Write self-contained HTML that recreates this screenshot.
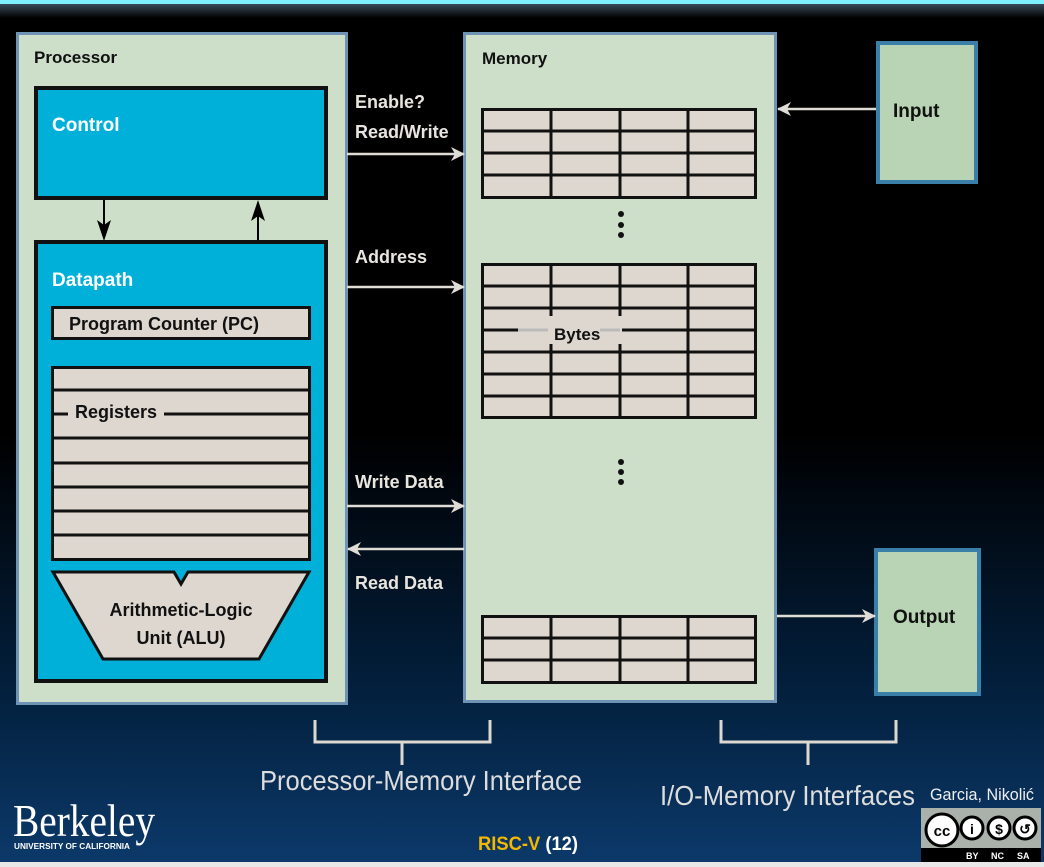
<!DOCTYPE html>
<html><head><meta charset="utf-8"><style>
html,body{margin:0;padding:0;width:1044px;height:867px;overflow:hidden;background:#000}
svg{display:block}
.b{font-family:"Liberation Sans",sans-serif;font-weight:bold}
</style></head><body>
<svg width="1044" height="867" viewBox="0 0 1044 867" xmlns="http://www.w3.org/2000/svg">
<defs>
<linearGradient id="bg" x1="0" y1="0" x2="0" y2="1">
<stop offset="0" stop-color="#000"/>
<stop offset="0.5" stop-color="#000"/>
<stop offset="0.8" stop-color="#03203e"/>
<stop offset="1" stop-color="#0c3a6b"/>
</linearGradient>
<linearGradient id="tb" x1="0" y1="0" x2="0" y2="1">
<stop offset="0" stop-color="#3a4a5a"/><stop offset="1" stop-color="#000"/>
</linearGradient>
<marker id="ah" markerWidth="14" markerHeight="14" refX="13" refY="7" orient="auto" markerUnits="userSpaceOnUse">
<path d="M0,0 L14,7 L0,14 L4,7 Z" fill="#e0dcd6"/></marker>
</defs>
<rect width="1044" height="867" fill="url(#bg)"/>
<rect y="4" width="1044" height="14" fill="url(#tb)"/>
<rect y="0" width="1044" height="4" fill="#7ff0ff"/>
<rect y="862" width="1044" height="5" fill="#e8e8e8"/>

<!-- Processor -->
<rect x="17.5" y="33.5" width="329" height="670" fill="#cddfc8" stroke="#6f93b5" stroke-width="3"/>
<text x="34" y="63" class="b" font-size="17" fill="#111">Processor</text>
<rect x="36" y="88" width="290" height="110" fill="#00b0d8" stroke="#111" stroke-width="4"/>
<text x="52" y="131" class="b" font-size="19" fill="#fff">Control</text>
<rect x="36" y="242" width="290" height="439" fill="#00b0d8" stroke="#111" stroke-width="4"/>
<text x="52" y="286" class="b" font-size="19" fill="#fff">Datapath</text>
<line x1="104" y1="200" x2="104" y2="232" stroke="#000" stroke-width="2"/>
<path d="M97,220 L104,241 L111,220 L104,225 Z" fill="#000"/>
<line x1="258" y1="240" x2="258" y2="208" stroke="#000" stroke-width="2"/>
<path d="M251,221 L258,200 L265,221 L258,216 Z" fill="#000"/>
<rect x="52.5" y="307.5" width="257" height="31" fill="#ded7d0" stroke="#111" stroke-width="3"/>
<text x="69" y="330" class="b" font-size="18" fill="#111">Program Counter (PC)</text>
<rect x="52.5" y="367.5" width="257" height="192" fill="#ded7d0" stroke="#111" stroke-width="3"/>
<g stroke="#111" stroke-width="3">
<line x1="52" y1="390" x2="310" y2="390"/>
<line x1="52" y1="414" x2="68" y2="414"/><line x1="164" y1="414" x2="310" y2="414"/>
<line x1="52" y1="438" x2="310" y2="438"/>
<line x1="52" y1="463" x2="310" y2="463"/>
<line x1="52" y1="487" x2="310" y2="487"/>
<line x1="52" y1="511" x2="310" y2="511"/>
<line x1="52" y1="535" x2="310" y2="535"/>
</g>
<text x="75" y="418" class="b" font-size="18" fill="#111">Registers</text>
<path d="M53,572 L174,572 L181,584 L188,572 L309,572 L259,659 L103,659 Z" fill="#ded7d0" stroke="#111" stroke-width="3"/>
<text x="181" y="616" class="b" font-size="18" fill="#111" text-anchor="middle">Arithmetic-Logic</text>
<text x="181" y="644" class="b" font-size="18" fill="#111" text-anchor="middle">Unit (ALU)</text>

<!-- Memory -->
<rect x="464.5" y="33.5" width="311" height="668" fill="#cddfc8" stroke="#6f93b5" stroke-width="3"/>
<text x="482" y="64" class="b" font-size="17" fill="#111">Memory</text>
<g fill="#ded7d0" stroke="#111" stroke-width="3">
<rect x="482.5" y="109.5" width="273" height="88"/>
<rect x="482.5" y="264.5" width="273" height="153"/>
<rect x="482.5" y="616.5" width="273" height="66"/>
</g>
<g stroke="#111" stroke-width="3">
<line x1="482" y1="131" x2="756" y2="131"/><line x1="482" y1="153" x2="756" y2="153"/><line x1="482" y1="175" x2="756" y2="175"/>
<line x1="551" y1="109" x2="551" y2="198"/><line x1="620" y1="109" x2="620" y2="198"/><line x1="688" y1="109" x2="688" y2="198"/>
<line x1="482" y1="286" x2="756" y2="286"/><line x1="482" y1="308" x2="756" y2="308"/>
<line x1="482" y1="330" x2="518" y2="330"/><line x1="622" y1="330" x2="756" y2="330"/>
<line x1="482" y1="352" x2="756" y2="352"/><line x1="482" y1="374" x2="756" y2="374"/><line x1="482" y1="396" x2="756" y2="396"/>
<line x1="551" y1="264" x2="551" y2="316"/><line x1="551" y1="344" x2="551" y2="418"/>
<line x1="620" y1="264" x2="620" y2="316"/><line x1="620" y1="344" x2="620" y2="418"/>
<line x1="688" y1="264" x2="688" y2="418"/>
<line x1="482" y1="638" x2="756" y2="638"/><line x1="482" y1="660" x2="756" y2="660"/>
<line x1="551" y1="616" x2="551" y2="683"/><line x1="620" y1="616" x2="620" y2="683"/><line x1="688" y1="616" x2="688" y2="683"/>
</g>
<line x1="518" y1="330" x2="548" y2="330" stroke="#bbb" stroke-width="3"/>
<line x1="600" y1="330" x2="620" y2="330" stroke="#bbb" stroke-width="3"/>
<text x="554" y="340" class="b" font-size="17" fill="#111">Bytes</text>
<g fill="#111"><circle cx="621" cy="214" r="3"/><circle cx="621" cy="225" r="3"/><circle cx="621" cy="235" r="3"/>
<circle cx="621" cy="462" r="3"/><circle cx="621" cy="472" r="3"/><circle cx="621" cy="482" r="3"/></g>

<!-- IO -->
<rect x="878" y="43" width="98" height="139" fill="#b8d4b4" stroke="#3a7fa8" stroke-width="4"/>
<text x="893" y="117" class="b" font-size="19" fill="#111">Input</text>
<rect x="876" y="550" width="103" height="144" fill="#b8d4b4" stroke="#3a7fa8" stroke-width="4"/>
<text x="893" y="623" class="b" font-size="19" fill="#111">Output</text>

<!-- arrows -->
<g stroke="#e0dcd6" stroke-width="2.5">
<line x1="347" y1="154" x2="464" y2="154" marker-end="url(#ah)"/>
<line x1="347" y1="287" x2="464" y2="287" marker-end="url(#ah)"/>
<line x1="347" y1="506" x2="464" y2="506" marker-end="url(#ah)"/>
<line x1="464" y1="549" x2="348" y2="549" marker-end="url(#ah)"/>
<line x1="876" y1="109" x2="778" y2="109" marker-end="url(#ah)"/>
<line x1="777" y1="616" x2="875" y2="616" marker-end="url(#ah)"/>
</g>
<g class="b" font-size="18" fill="#e8e4de">
<text x="355" y="108">Enable?</text>
<text x="355" y="138">Read/Write</text>
<text x="355" y="263">Address</text>
<text x="355" y="488">Write Data</text>
<text x="355" y="589">Read Data</text>
</g>

<!-- braces -->
<g fill="none" stroke="#ddd8d0" stroke-width="3">
<path d="M315,720 L315,742 L490,742 L490,720"/><line x1="402" y1="742" x2="402" y2="765"/>
<path d="M721,720 L721,742 L896,742 L896,720"/><line x1="808" y1="742" x2="808" y2="765"/>
</g>
<text x="260" y="790" font-family="'Liberation Sans Narrow','Liberation Sans',sans-serif" font-size="28" fill="#ddd" textLength="322" lengthAdjust="spacingAndGlyphs">Processor-Memory Interface</text>
<text x="660" y="805" font-family="'Liberation Sans Narrow','Liberation Sans',sans-serif" font-size="28" fill="#ddd" textLength="255" lengthAdjust="spacingAndGlyphs">I/O-Memory Interfaces</text>
<text x="930" y="800" font-family="'Liberation Sans Narrow','Liberation Sans',sans-serif" font-size="17" fill="#eee" textLength="104" lengthAdjust="spacingAndGlyphs">Garcia, Nikolić</text>

<!-- CC -->
<rect x="921" y="808" width="120" height="54" fill="#aab0aa"/>
<rect x="921" y="848" width="120" height="14" fill="#000"/>
<g fill="#fff" stroke="#000" stroke-width="3">
<circle cx="942" cy="830" r="16"/><circle cx="972" cy="828" r="11"/><circle cx="999" cy="828" r="11"/><circle cx="1025" cy="828" r="11"/>
</g>
<text x="942" y="836" class="b" font-size="15" fill="#000" text-anchor="middle">cc</text>
<text x="972" y="834" class="b" font-size="14" fill="#000" text-anchor="middle">i</text>
<text x="999" y="834" class="b" font-size="14" fill="#000" text-anchor="middle">$</text>
<text x="1025" y="834" class="b" font-size="14" fill="#000" text-anchor="middle">↺</text>
<g class="b" font-size="9" fill="#fff"><text x="966" y="859">BY</text><text x="991" y="859">NC</text><text x="1017" y="859">SA</text></g>

<!-- Berkeley -->
<text x="13" y="836" font-family="'Liberation Serif',serif" font-size="46" fill="#fff" textLength="142" lengthAdjust="spacingAndGlyphs">Berkeley</text>
<text x="14" y="849" class="b" font-size="8" fill="#fff" textLength="116" lengthAdjust="spacingAndGlyphs">UNIVERSITY OF CALIFORNIA</text>
<text x="478" y="850" class="b" font-size="19" textLength="100" lengthAdjust="spacingAndGlyphs"><tspan fill="#f5b800">RISC-V</tspan><tspan fill="#fff"> (12)</tspan></text>
</svg>
</body></html>
